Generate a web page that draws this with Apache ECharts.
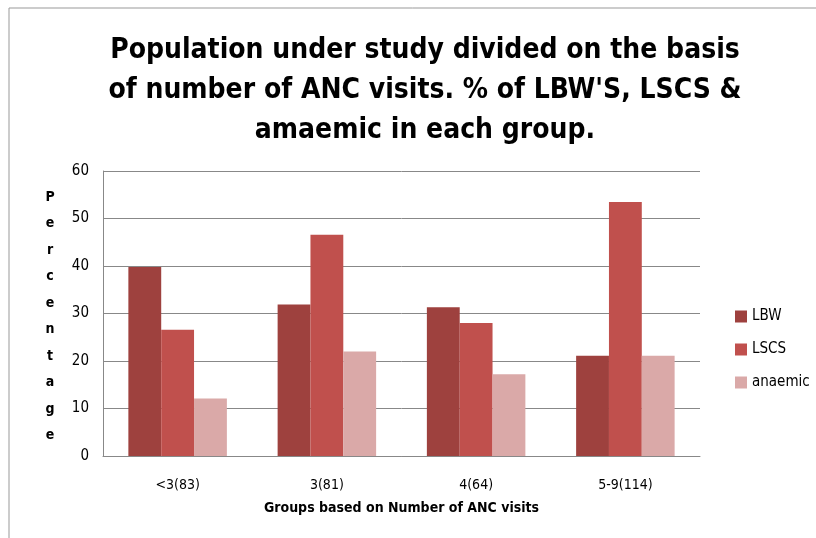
<!DOCTYPE html>
<html><head><meta charset="utf-8">
<script src="https://cdn.jsdelivr.net/npm/echarts@6/dist/echarts.min.js"></script>
<style>html,body{margin:0;padding:0;background:#fff}#c{width:816px;height:538px}</style>
</head><body><div id="c"></div>
<script>
const categories = ['<3(83)', '3(81)', '4(64)', '5-9(114)'];
const lbw = [39.8, 31.9, 31.3, 21.1];
const lscs = [26.6, 46.6, 28.0, 53.5];
const anaemic = [12.1, 22.0, 17.2, 21.1];
const yTicks = [0, 10, 20, 30, 40, 50, 60];

const FONT = "'Liberation Sans Narrow','DejaVu Sans Condensed','Open Sans',sans-serif";
const chart = echarts.init(document.getElementById('c'));
chart.setOption({
  animation: false,
  backgroundColor: '#fff',
  title: {
    text: "Population under study divided on the basis\nof number of ANC visits. % of LBW'S, LSCS &\namaemic in each group.",
    left: 420, top: 26, textAlign: 'center',
    textStyle: { fontFamily: FONT, fontSize: 28, fontWeight: 'bold', color: '#000', lineHeight: 40 }
  },
  legend: {
    orient: 'vertical', left: 730, top: 304, itemGap: 18,
    itemWidth: 12, itemHeight: 12, icon: 'rect',
    textStyle: { fontFamily: FONT, fontSize: 15, color: '#000' },
    data: ['LBW', 'LSCS', 'anaemic']
  },
  graphic: [
    { type: 'polyline', shape: { points: [[9, 538], [9, 8], [816, 8]] }, style: { stroke: '#999', lineWidth: 1, fill: null } },
    { type: 'text', x: 50, y: 184, style: { text: 'P\ne\nr\nc\ne\nn\nt\na\ng\ne', fontFamily: FONT, fontSize: 14, fontWeight: 'bold', lineHeight: 26.5, fill: '#000', align: 'center', verticalAlign: 'top' } }
  ],
  grid: { left: 103, right: 116, top: 171, bottom: 82 },
  xAxis: {
    type: 'category', data: categories,
    name: 'Groups based on Number of ANC visits', nameLocation: 'middle', nameGap: 45,
    nameTextStyle: { fontFamily: FONT, fontSize: 14, fontWeight: 'bold', color: '#000' },
    axisLine: { lineStyle: { color: '#888', width: 1 } },
    axisTick: { show: false },
    axisLabel: { fontFamily: FONT, fontSize: 14, color: '#000', margin: 22 }
  },
  yAxis: {
    type: 'value', min: yTicks[0], max: yTicks[yTicks.length - 1], interval: 10,
    axisLine: { show: true, lineStyle: { color: '#888', width: 1 } },
    axisTick: { show: false },
    axisLabel: { fontFamily: FONT, fontSize: 15, color: '#000', margin: 14 },
    splitLine: { lineStyle: { color: '#888', width: 1 } }
  },
  series: [
    { name: 'LBW', type: 'bar', data: lbw, barGap: '0%', barCategoryGap: '34%', itemStyle: { color: '#9E413E' } },
    { name: 'LSCS', type: 'bar', data: lscs, itemStyle: { color: '#C0504D' } },
    { name: 'anaemic', type: 'bar', data: anaemic, itemStyle: { color: '#DAA9A8' } }
  ]
});
</script></body></html>
